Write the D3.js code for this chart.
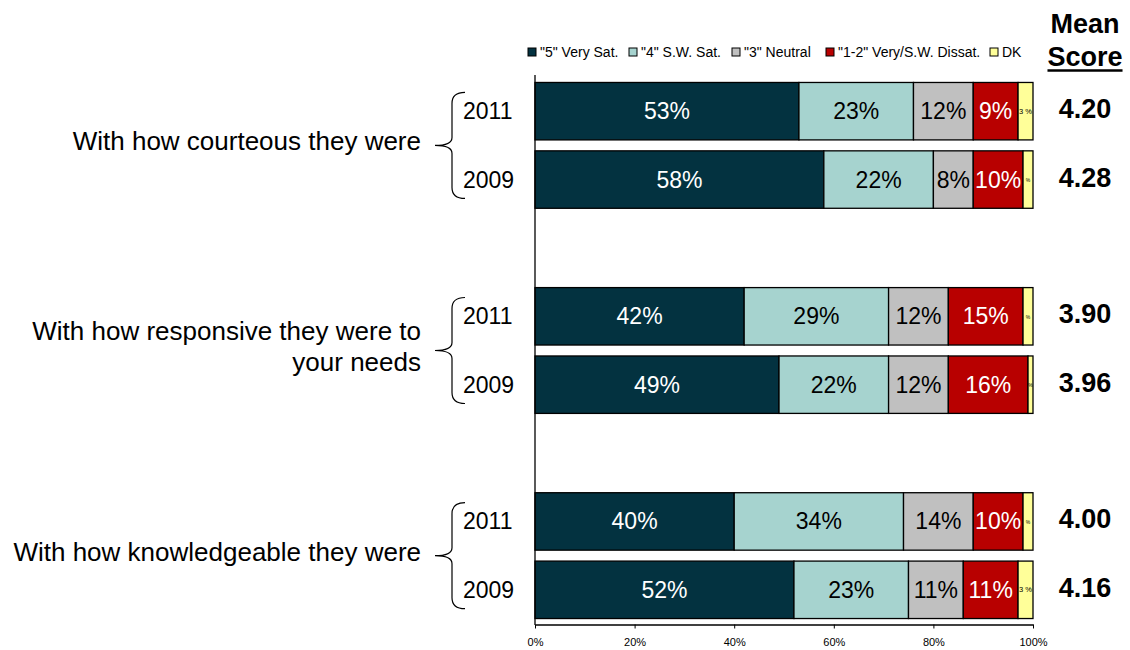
<!DOCTYPE html>
<html>
<head>
<meta charset="utf-8">
<script src="https://cdn.jsdelivr.net/npm/d3@7"></script>
<style>
  html, body { margin: 0; padding: 0; background: #fff; }
  svg { display: block; font-family: "Liberation Sans", Arial, sans-serif; }
</style>
</head>
<body>
<svg id="chart" width="1130" height="650"></svg>
<script>
// ---------------- DATA ----------------
const categoryLines = [
  ["With how courteous they were"],
  ["With how responsive they were to", "your needs"],
  ["With how knowledgeable they were"]
];
const years = ["2011", "2009"];
const seriesNames = ['"5" Very Sat.', '"4" S.W. Sat.', '"3" Neutral', '"1-2" Very/S.W. Dissat.', 'DK'];
// rows: courteous 2011, courteous 2009, responsive 2011, responsive 2009, knowledgeable 2011, knowledgeable 2009
const verySat   = [53, 58, 42, 49, 40, 52];
const swSat     = [23, 22, 29, 22, 34, 23];
const neutral   = [12,  8, 12, 12, 14, 11];
const dissat    = [ 9, 10, 15, 16, 10, 11];
const dontKnow  = [ 3,  2,  2,  1,  2,  3];
const meanScores = ["4.20", "4.28", "3.90", "3.96", "4.00", "4.16"];
const tickValues = [0, 20, 40, 60, 80, 100];
const tickLabels = ["0%", "20%", "40%", "60%", "80%", "100%"];

// ---------------- STYLE ----------------
const colors = ["#033240", "#a6d3cf", "#c0c0c0", "#b80000", "#ffff99"];
const labelColors = ["#ffffff", "#000000", "#000000", "#ffffff", "#000000"];
const legendSquareX = [528, 629, 732, 826, 990];

const series = [verySat, swSat, neutral, dissat, dontKnow];

// build row keys with gaps between groups
const rowKeys = [];
categoryLines.forEach((c, ci) => {
  years.forEach(y => rowKeys.push(ci + "-" + y));
  if (ci < categoryLines.length - 1) rowKeys.push("gap" + ci);
});
const rows = [];
categoryLines.forEach((c, ci) => years.forEach((y, yi) => rows.push({ key: ci + "-" + y, cat: ci, year: y, idx: ci * years.length + yi })));

const svg = d3.select("#chart");
const x = d3.scaleLinear().domain([0, 100]).range([535, 1033]);
const y = d3.scaleBand().domain(rowKeys).range([77, 624]).paddingInner(0.16).paddingOuter(0.08);

// bars
rows.forEach(r => {
  let acc = 0;
  const g = svg.append("g");
  series.forEach((s, si) => {
    const v = s[r.idx];
    const x0 = x(acc), x1 = x(acc + v);
    g.append("rect")
      .attr("x", x0).attr("y", y(r.key))
      .attr("width", x1 - x0).attr("height", y.bandwidth())
      .attr("fill", colors[si]).attr("stroke", "#000").attr("stroke-width", 1.3);
    const cy = y(r.key) + y.bandwidth() / 2;
    if (si < 4) {
      g.append("text")
        .attr("x", (x0 + x1) / 2).attr("y", cy + 8)
        .attr("text-anchor", "middle").attr("font-size", 23)
        .attr("fill", labelColors[si]).text(v + "%");
    } else {
      g.append("text")
        .attr("x", (x0 + x1) / 2).attr("y", cy + 2.5)
        .attr("text-anchor", "middle").attr("font-size", v >= 3 ? 7.5 : 5)
        .attr("fill", "#000").text(v >= 3 ? v + " %" : "%");
    }
    acc += v;
  });
  // year label
  svg.append("text")
    .attr("x", 463).attr("y", y(r.key) + y.bandwidth() / 2 + 8)
    .attr("font-size", 23).attr("fill", "#000").text(r.year);
  // mean score
  svg.append("text")
    .attr("x", 1085).attr("y", y(r.key) + y.bandwidth() / 2 + 7)
    .attr("text-anchor", "middle").attr("font-size", 27).attr("font-weight", "bold")
    .attr("fill", "#000").text(meanScores[r.idx]);
});

// category labels and braces
categoryLines.forEach((lines, ci) => {
  const top = y(ci + "-" + years[0]);
  const bot = y(ci + "-" + years[years.length - 1]) + y.bandwidth();
  const m = (top + bot) / 2;
  const n = lines.length;
  lines.forEach((t, li) => {
    svg.append("text")
      .attr("x", 421).attr("y", m + 5 - (n - 1) * 15.5 + li * 31)
      .attr("text-anchor", "end").attr("font-size", 26).attr("fill", "#000").text(t);
  });
  const t0 = m - 53, b0 = m + 53;
  const p = `M465,${t0} Q452,${t0} 452,${t0 + 11} L452,${m - 8} Q452,${m} 435,${m} Q452,${m} 452,${m + 8} L452,${b0 - 11} Q452,${b0} 465,${b0}`;
  svg.append("path").attr("d", p).attr("fill", "none").attr("stroke", "#000").attr("stroke-width", 1.2);
});

// axes
const xAxis = d3.axisBottom(x).tickValues(tickValues)
  .tickFormat((d, i) => tickLabels[i]).tickSize(4).tickSizeOuter(0).tickPadding(10);
const ax = svg.append("g").attr("transform", "translate(0,624.5)").call(xAxis);
ax.select(".domain").attr("stroke", "#000").attr("stroke-width", 1.3);
ax.selectAll(".tick line").attr("stroke", "#000");
ax.selectAll(".tick text").attr("font-size", 11).attr("fill", "#000")
  .attr("font-family", '"Liberation Sans", Arial, sans-serif');
svg.append("line").attr("x1", 535).attr("x2", 535).attr("y1", 75).attr("y2", 625)
  .attr("stroke", "#000").attr("stroke-width", 1.3);

// legend
seriesNames.forEach((name, i) => {
  svg.append("rect").attr("x", legendSquareX[i]).attr("y", 48).attr("width", 8).attr("height", 8)
    .attr("fill", colors[i]).attr("stroke", "#000").attr("stroke-width", 1);
  svg.append("text").attr("x", legendSquareX[i] + 12).attr("y", 57)
    .attr("font-size", 14).attr("fill", "#000").text(name);
});

// mean score header
svg.append("text").attr("x", 1085).attr("y", 33).attr("text-anchor", "middle")
  .attr("font-size", 27).attr("font-weight", "bold").attr("fill", "#000").text("Mean");
const sc = svg.append("text").attr("x", 1085).attr("y", 66).attr("text-anchor", "middle")
  .attr("font-size", 27).attr("font-weight", "bold").attr("fill", "#000").text("Score");
const bb = sc.node().getBBox();
svg.append("line").attr("x1", bb.x).attr("x2", bb.x + bb.width).attr("y1", 70.5).attr("y2", 70.5)
  .attr("stroke", "#000").attr("stroke-width", 2.5);
</script>
</body>
</html>
